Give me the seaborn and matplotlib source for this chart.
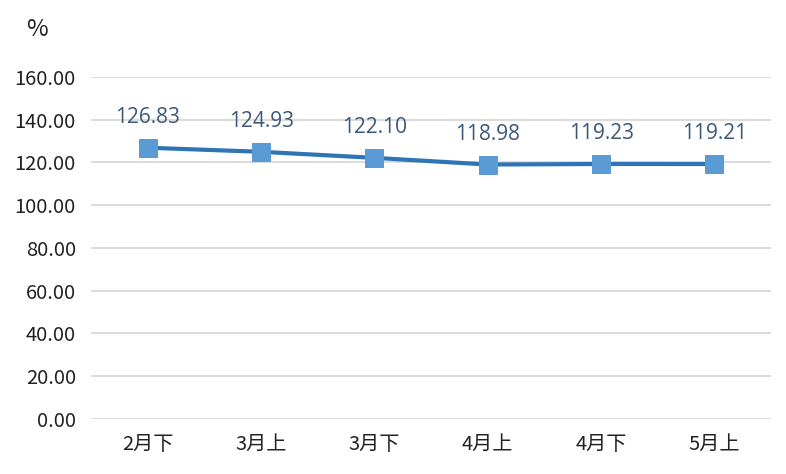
import pandas as pd
import matplotlib
matplotlib.use("Agg")
import matplotlib.pyplot as plt
import seaborn as sns

periods = ["2月下", "3月上", "3月下", "4月上", "4月下", "5月上"]
values = [126.83, 124.93, 122.10, 118.98, 119.23, 119.21]
y_ticks = [0, 20, 40, 60, 80, 100, 120, 140, 160]

sns.set_theme(style="white")
plt.rcParams["font.family"] = ["Noto Sans CJK SC", "DejaVu Sans"]

df = pd.DataFrame({"period": periods, "value": values})

fig = plt.figure(figsize=(7.86, 4.74), dpi=100)
ax = fig.add_axes([0.116, 0.116, 0.865, 0.722])

sns.lineplot(data=df, x="period", y="value", ax=ax, sort=False,
             color="#2e75b6", linewidth=3.0, marker="s", markersize=12.5,
             markerfacecolor="#5b9bd5", markeredgecolor="#5b9bd5", zorder=3)

for i, v in enumerate(values):
    ax.annotate(f"{v:.2f}", (i, v), xytext=(0, 18), textcoords="offset points",
                ha="center", va="baseline", fontsize=15, color="#3b5878",
                family=["Open Sans", "DejaVu Sans"])

ax.set_xlim(-0.5, len(periods) - 0.5)
ax.set_ylim(0, 160)
ax.set_yticks(y_ticks)
ax.set_yticklabels([f"{t:.2f}" for t in y_ticks], fontsize=14.5, color="#222222")
ax.tick_params(axis="x", labelsize=14.5, colors="#222222", pad=11, length=0)
ax.tick_params(axis="y", pad=11, length=0)
ax.yaxis.grid(True, color="#d9d9d9", linewidth=1.3)
ax.xaxis.grid(False)
for s in ax.spines.values():
    s.set_visible(False)
ax.set_xlabel("")
ax.set_ylabel("")

fig.text(0.047, 0.938, "%", fontsize=17, color="#222222", ha="center", va="center")

fig.savefig("out.png", dpi=100, facecolor="white")
